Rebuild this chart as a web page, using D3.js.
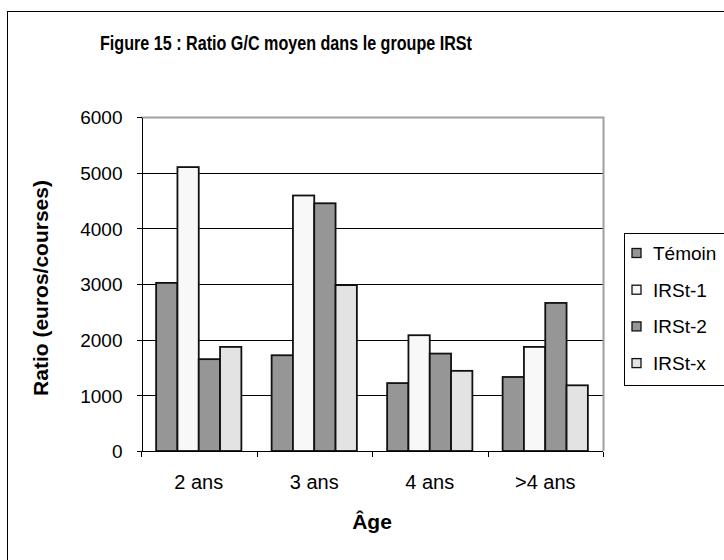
<!DOCTYPE html>
<html>
<head>
<meta charset="utf-8">
<script src="https://cdn.jsdelivr.net/npm/d3@7"></script>
<style>
  body { margin: 0; background: #fff; }
  svg { display: block; font-family: "Liberation Sans", Arial, sans-serif; }
  .axis path, .axis line { stroke: #000; shape-rendering: crispEdges; }
  .axis text { font-size: 19px; fill: #000; }
</style>
</head>
<body>
<svg id="chart" width="724" height="560"></svg>
<script>
var ages = ['2 ans', '3 ans', '4 ans', '>4 ans'];
var series = ['Témoin', 'IRSt-1', 'IRSt-2', 'IRSt-x'];
var temoin = [3020, 1720, 1220, 1330];
var irst1 = [5100, 4590, 2080, 1870];
var irst2 = [1650, 4450, 1750, 2660];
var irstx = [1870, 2980, 1440, 1180];
var yTicks = [0, 1000, 2000, 3000, 4000, 5000, 6000];
var fills = ['#969696', '#f8f8f8', '#969696', '#e3e3e3'];

var values = [temoin, irst1, irst2, irstx];

var svg = d3.select('#chart');
var plot = { left: 141, top: 117, right: 603, bottom: 451 };

// outer frame (right and bottom edges fall outside the picture)
svg.append('rect')
  .attr('x', 7.5).attr('y', 11.5)
  .attr('width', 900).attr('height', 700)
  .attr('fill', 'none').attr('stroke', '#000').attr('stroke-width', 1);

var x0 = d3.scaleBand().domain(ages).range([plot.left, plot.right]).padding(0);
var x1 = d3.scaleBand().domain(series).range([0, x0.bandwidth()])
  .paddingInner(0).paddingOuter(0.71);
var y = d3.scaleLinear().domain([0, 6000]).range([plot.bottom, plot.top]);

// gridlines
svg.append('g').selectAll('line')
  .data(yTicks.filter(function(d) { return d > 0 && d < 6000; }))
  .enter().append('line')
  .attr('x1', plot.left).attr('x2', plot.right)
  .attr('y1', function(d) { return Math.round(y(d)) + 0.5; })
  .attr('y2', function(d) { return Math.round(y(d)) + 0.5; })
  .attr('stroke', '#000').attr('stroke-width', 1);

// grey top / right border of the plot area
svg.append('path')
  .attr('d', 'M' + plot.left + ',' + (plot.top + 0.5) + 'H' + (plot.right + 0.5) + 'V' + plot.bottom)
  .attr('fill', 'none').attr('stroke', '#a0a0a0').attr('stroke-width', 2);

// bars
var groups = svg.append('g').selectAll('g')
  .data(ages)
  .enter().append('g')
  .attr('transform', function(d) { return 'translate(' + x0(d) + ',0)'; });

groups.selectAll('rect')
  .data(function(d, i) {
    return series.map(function(s, j) { return { s: s, j: j, v: values[j][i] }; });
  })
  .enter().append('rect')
  .attr('x', function(d) { return x1(d.s); })
  .attr('y', function(d) { return y(d.v); })
  .attr('width', x1.bandwidth())
  .attr('height', function(d) { return y(0) - y(d.v); })
  .attr('fill', function(d) { return fills[d.j]; })
  .attr('stroke', '#111').attr('stroke-width', 1.8);

// y axis
svg.append('g')
  .attr('class', 'axis')
  .attr('transform', 'translate(' + (plot.left + 0.5) + ',0)')
  .call(d3.axisLeft(y).tickValues(yTicks).tickFormat(d3.format('d'))
    .tickSize(5).tickPadding(14).tickSizeOuter(0))
  .selectAll('text').attr('dy', '0.36em');

// x axis
var xAxis = d3.axisBottom(x0).tickSize(0).tickPadding(23);
var gx = svg.append('g')
  .attr('class', 'axis')
  .attr('transform', 'translate(0,' + (plot.bottom + 0.5) + ')')
  .call(xAxis);
gx.selectAll('text').style('font-size', '20px');
gx.select('.domain').attr('d', 'M' + plot.left + ',0H' + plot.right);
gx.selectAll('.bound')
  .data(d3.range(ages.length + 1))
  .enter().append('line')
  .attr('class', 'bound')
  .attr('x1', function(i) { return Math.round(plot.left + i * x0.step()) + 0.5; })
  .attr('x2', function(i) { return Math.round(plot.left + i * x0.step()) + 0.5; })
  .attr('y1', 0).attr('y2', 5);

// titles
svg.append('text')
  .attr('x', 100).attr('y', 50)
  .attr('textLength', 372).attr('lengthAdjust', 'spacingAndGlyphs')
  .style('font-size', '20px').style('font-weight', 'bold')
  .text('Figure 15 : Ratio G/C moyen dans le groupe IRSt');

svg.append('text')
  .attr('x', (plot.left + plot.right) / 2).attr('y', 529)
  .attr('text-anchor', 'middle')
  .style('font-size', '21px').style('font-weight', 'bold')
  .text('Âge');

svg.append('text')
  .attr('transform', 'translate(48,' + ((plot.top + plot.bottom) / 2 + 4) + ') rotate(-90)')
  .attr('text-anchor', 'middle')
  .style('font-size', '21px').style('font-weight', 'bold')
  .text('Ratio (euros/courses)');

// legend
svg.append('rect')
  .attr('x', 624.5).attr('y', 233.5)
  .attr('width', 300).attr('height', 152)
  .attr('fill', '#fff').attr('stroke', '#000').attr('stroke-width', 1);

var legend = svg.append('g').selectAll('g')
  .data(series)
  .enter().append('g')
  .attr('transform', function(d, i) { return 'translate(632,' + (253 + i * 36.7) + ')'; });

legend.append('rect')
  .attr('x', 0).attr('y', -4.5)
  .attr('width', 9).attr('height', 9)
  .attr('fill', function(d, i) { return fills[i]; })
  .attr('stroke', '#111').attr('stroke-width', 1.3);

legend.append('text')
  .attr('x', 21).attr('y', 0).attr('dy', '0.36em')
  .style('font-size', '19px')
  .text(function(d) { return d; });
</script>
</body>
</html>
